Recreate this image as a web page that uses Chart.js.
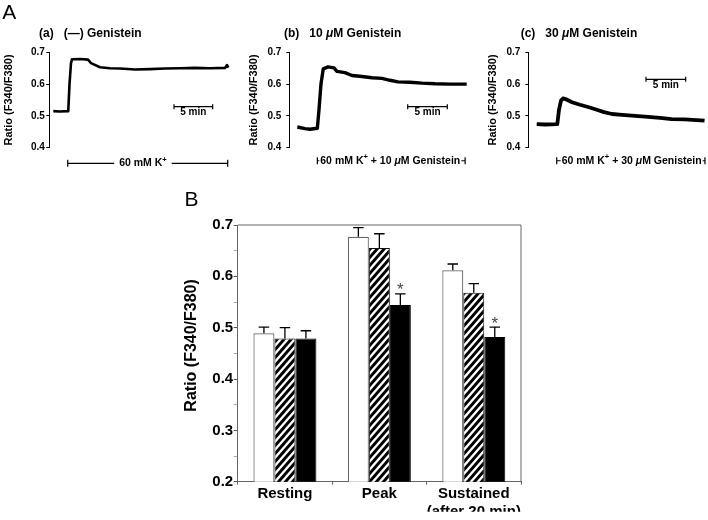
<!DOCTYPE html>
<html><head><meta charset="utf-8">
<script src="https://cdn.jsdelivr.net/npm/chart.js@4/dist/chart.umd.min.js"></script>
<style>
html,body{margin:0;padding:0;background:#fff;overflow:hidden;}
#wrap{position:relative;width:708px;height:520px;overflow:hidden;background:#fff;}
#wrap canvas{position:absolute;left:0;top:0;}
</style></head><body>
<div id="wrap">
<canvas id="ca" width="708" height="520"></canvas>
<canvas id="cb" width="708" height="520"></canvas>
<canvas id="cc" width="708" height="520"></canvas>
<canvas id="cB" width="708" height="520"></canvas>
</div>
<script>
// ================= DATA =================
// Panel A traces: time (min) and ratio F340/F380
const traceA_time  = [0.52, 1.38, 2.45, 2.61, 2.80, 2.93, 3.97, 5.00, 5.39, 6.03, 6.55, 7.84, 9.13, 11.07, 13.0, 14.95, 16.9, 18.8, 20.8, 22.7, 22.96, 23.13];
const traceA_ratio = [0.515, 0.514, 0.515, 0.600, 0.665, 0.678, 0.679, 0.677, 0.666, 0.659, 0.653, 0.650, 0.649, 0.646, 0.647, 0.649, 0.650, 0.651, 0.650, 0.651, 0.660, 0.652];

const traceB_time  = [1.01, 1.98, 2.61, 3.54, 3.75, 4.00, 4.29, 4.89, 5.64, 6.02, 7.03, 7.92, 9.18, 10.44, 11.7, 12.71, 13.72, 15.24, 16.76, 18.4, 20.3, 22.4];
const traceB_ratio = [0.465, 0.460, 0.458, 0.461, 0.520, 0.600, 0.648, 0.654, 0.651, 0.640, 0.636, 0.627, 0.624, 0.620, 0.618, 0.612, 0.607, 0.606, 0.603, 0.601, 0.600, 0.600];

const traceC_time  = [1.06, 2.10, 3.65, 3.87, 4.12, 4.37, 4.87, 5.50, 6.51, 7.52, 8.53, 9.53, 10.54, 11.8, 13.44, 15.08, 16.59, 18.07, 19.7, 21.2, 22.2];
const traceC_ratio = [0.474, 0.473, 0.474, 0.520, 0.548, 0.555, 0.551, 0.543, 0.535, 0.528, 0.520, 0.512, 0.506, 0.503, 0.500, 0.497, 0.494, 0.490, 0.489, 0.487, 0.485];

// application periods (min) and 5-min scale bars (min)
const stimA = [2.38, 23.05];
const stimB = [3.54, 22.2];
const stimC = [3.58, 22.25];
const scaleA = [16.11, 21.11];
const scaleB = [14.95, 19.95];
const scaleC = [14.82, 19.82];

const traceTicks = [0.4, 0.5, 0.6, 0.7];

// Panel B bars
const categories = ['Resting', 'Peak', ['Sustained', '(after 20 min)']];
const control    = [0.489, 0.677, 0.612];
const controlErr = [0.012, 0.018, 0.012];
const gen10      = [0.479, 0.655, 0.568];
const gen10Err   = [0.021, 0.028, 0.018];
const gen30      = [0.479, 0.544, 0.482];
const gen30Err   = [0.015, 0.022, 0.019];
const gen30Sig   = [false, true, true];

// ================= RENDERING =================
const FONT = '"Liberation Sans", Arial, Helvetica, sans-serif';
Chart.defaults.font.family = FONT;
Chart.defaults.color = '#000';

// horizontal bars with end caps (scale bars, application brackets), placed through the scales
function capBarsPlugin(items) {
  return {
    id: 'capbars',
    afterDatasetsDraw(chart) {
      const ctx = chart.ctx, xs = chart.scales.x, ys = chart.scales.y;
      ctx.save();
      ctx.strokeStyle = '#000'; ctx.lineWidth = 1.2; ctx.lineCap = 'butt';
      items.forEach(it => {
        const x0 = xs.getPixelForValue(it.x[0]), x1 = xs.getPixelForValue(it.x[1]);
        const y = ys.getPixelForValue(it.y);
        ctx.beginPath();
        ctx.moveTo(x0, y); ctx.lineTo(x1, y);
        ctx.moveTo(x0, y - it.cap); ctx.lineTo(x0, y + it.cap);
        ctx.moveTo(x1, y - it.cap); ctx.lineTo(x1, y + it.cap);
        ctx.stroke();
      });
      ctx.restore();
    }
  };
}

function notesPlugin(items) {
  return {
    id: 'notes',
    afterDatasetsDraw(chart) {
      const ctx = chart.ctx, xs = chart.scales.x, ys = chart.scales.y;
      items.forEach(it => {
        const px = xs.getPixelForValue(it.x), py = ys.getPixelForValue(it.y);
        const fontOf = p => (p.italic ? 'italic ' : '') + (it.weight || 'bold') + ' ' +
          (p.sup ? it.size * 0.72 : it.size) + 'px ' + FONT;
        ctx.save();
        ctx.translate(px, py);
        if (it.rot) ctx.rotate(it.rot * Math.PI / 180);
        const widths = it.parts.map(p => { ctx.font = fontOf(p); return ctx.measureText(p.t).width; });
        const total = widths.reduce((a, b) => a + b, 0);
        let cx = it.align === 'left' ? 0 : (it.align === 'right' ? -total : -total / 2);
        if (it.bg) { ctx.fillStyle = '#fff'; ctx.fillRect(cx - it.bg, -it.size * 0.6, total + 2 * it.bg, it.size * 1.2); }
        ctx.fillStyle = it.color || '#000';
        ctx.textAlign = 'left'; ctx.textBaseline = 'middle';
        it.parts.forEach((p, i) => {
          ctx.font = fontOf(p);
          ctx.fillText(p.t, cx, p.sup ? -it.size * 0.32 : 0);
          cx += widths[i];
        });
        ctx.restore();
      });
    }
  };
}

function pts(xs, ys) { return xs.map((x, i) => ({ x: x, y: ys[i] })); }

function traceChart(id, c) {
  const right = c.axisX + c.tMax * c.ppm;
  new Chart(document.getElementById(id), {
    type: 'line',
    data: { datasets: [
      { data: pts(c.t, c.r), borderColor: '#000', borderWidth: c.lw, pointRadius: 0, tension: 0, borderJoinStyle: 'round' }
    ]},
    options: {
      responsive: false, animation: false, events: [],
      layout: { padding: { left: c.axisX - c.yW, right: 708 - right, top: 52.3, bottom: 520 - 147.7 } },
      plugins: { legend: { display: false }, tooltip: { enabled: false } },
      scales: {
        x: { type: 'linear', min: 0, max: c.tMax, display: false },
        y: {
          min: 0.4, max: 0.7,
          afterFit: s => { s.width = c.yW; },
          afterBuildTicks: s => { s.ticks = traceTicks.map(v => ({ value: v })); },
          ticks: { font: { size: 10, weight: 'bold' }, padding: c.tickPad, callback: v => Number(v).toFixed(1) },
          grid: { drawOnChartArea: false, tickLength: 3, tickColor: '#000', tickWidth: 1 },
          border: { color: '#000', width: 1 },
          title: { display: true, text: 'Ratio (F340/F380)', font: { size: 11, weight: 'bold' }, padding: { top: 0, bottom: 0 } }
        }
      }
    },
    plugins: [
      capBarsPlugin([
        { x: c.scale, y: c.scaleY, cap: 2.5 },
        { x: c.stim, y: c.stimY, cap: 3.5 }
      ]),
      notesPlugin(c.notes)
    ]
  });
}

traceChart('ca', {
  t: traceA_time, r: traceA_ratio, lw: 2.6,
  axisX: 49.3, yW: 46.6, ppm: 7.74, tMax: 24, tickPad: 1.5,
  scale: scaleA, scaleY: 0.529, stim: stimA, stimY: 0.351,
  notes: [
    { x: -5.18, y: 0.8226, parts: [{ t: 'A' }], size: 21, weight: 'normal', align: 'center' },
    { x: -1.33, y: 0.76, parts: [{ t: '(a)   (\u2014) Genistein' }], size: 12, align: 'left' },
    { x: 18.6, y: 0.511, parts: [{ t: '5 min' }], size: 10, align: 'center' },
    { x: 12.1, y: 0.351, parts: [{ t: '60 mM K' }, { t: '+', sup: true }], size: 10.5, align: 'center', bg: 5 }
  ]
});

traceChart('cb', {
  t: traceB_time, r: traceB_ratio, lw: 3.4,
  axisX: 289.3, yW: 41.6, ppm: 7.92, tMax: 24, tickPad: 5,
  scale: scaleB, scaleY: 0.529, stim: stimB, stimY: 0.359,
  notes: [
    { x: -0.67, y: 0.76, parts: [{ t: '(b)   10 ' }, { t: '\u03bc', italic: true }, { t: 'M Genistein' }], size: 12, align: 'left' },
    { x: 17.45, y: 0.51, parts: [{ t: '5 min' }], size: 10, align: 'center' },
    { x: 12.75, y: 0.359, parts: [{ t: '60 mM K' }, { t: '+', sup: true }, { t: ' + 10 ' }, { t: '\u03bc', italic: true }, { t: 'M Genistein' }], size: 10.5, align: 'center', bg: 1 }
  ]
});

traceChart('cc', {
  t: traceC_time, r: traceC_ratio, lw: 3.8,
  axisX: 528.3, yW: 41.9, ppm: 7.94, tMax: 22.5, tickPad: 5,
  scale: scaleC, scaleY: 0.615, stim: stimC, stimY: 0.359,
  notes: [
    { x: -0.96, y: 0.76, parts: [{ t: '(c)   30 ' }, { t: '\u03bc', italic: true }, { t: 'M Genistein' }], size: 12, align: 'left' },
    { x: 17.33, y: 0.595, parts: [{ t: '5 min' }], size: 10, align: 'center' },
    { x: 13.02, y: 0.359, parts: [{ t: '60 mM K' }, { t: '+', sup: true }, { t: ' + 30 ' }, { t: '\u03bc', italic: true }, { t: 'M Genistein' }], size: 10.5, align: 'center', bg: 1 }
  ]
});

// ---------- Panel B ----------
function makeHatch() {
  const w = 7, h = 8;
  const c = document.createElement('canvas'); c.width = w; c.height = h;
  const g = c.getContext('2d');
  g.fillStyle = '#fff'; g.fillRect(0, 0, w, h);
  g.strokeStyle = '#000'; g.lineWidth = 2.9;
  g.beginPath();
  for (let k = -2; k <= 2; k++) { g.moveTo(k * w - w, 2 * h); g.lineTo(k * w + 2 * w, -h); }
  g.stroke();
  return g.createPattern(c, 'repeat');
}

const errPlugin = {
  id: 'errbars',
  afterDatasetsDraw(chart) {
    const ctx = chart.ctx, ys = chart.scales.y;
    const errs = [controlErr, gen10Err, gen30Err];
    const sigs = [null, null, gen30Sig];
    chart.data.datasets.forEach((ds, di) => {
      const meta = chart.getDatasetMeta(di);
      meta.data.forEach((bar, i) => {
        const top = ys.getPixelForValue(ds.data[i] + errs[di][i]);
        const half = bar.width / 4;
        ctx.save();
        ctx.strokeStyle = '#000'; ctx.lineWidth = 1.3;
        ctx.beginPath();
        ctx.moveTo(bar.x, bar.y); ctx.lineTo(bar.x, top);
        ctx.moveTo(bar.x - half, top); ctx.lineTo(bar.x + half, top);
        ctx.stroke();
        if (sigs[di] && sigs[di][i]) {
          ctx.font = 'normal 17px ' + FONT;
          ctx.fillStyle = '#444'; ctx.textAlign = 'center'; ctx.textBaseline = 'alphabetic';
          const m = ctx.measureText('*');
          const target = top - 7.5;
          const base = target - (m.actualBoundingBoxDescent - m.actualBoundingBoxAscent) / 2;
          ctx.fillText('*', bar.x, base);
        }
        ctx.restore();
      });
    });
  }
};

const framePlugin = {
  id: 'frame',
  afterDraw(chart) {
    const ctx = chart.ctx, a = chart.chartArea;
    ctx.save(); ctx.strokeStyle = '#666'; ctx.lineWidth = 1;
    ctx.beginPath(); ctx.moveTo(a.left, a.top); ctx.lineTo(a.right, a.top); ctx.lineTo(a.right, a.bottom); ctx.stroke();
    ctx.restore();
  }
};

const isMajor = v => Math.round(v * 100) % 10 === 0;

new Chart(document.getElementById('cB'), {
  type: 'bar',
  data: { labels: categories, datasets: [
    { data: control, backgroundColor: '#fff', borderColor: '#666', borderWidth: 1.2 },
    { data: gen10, backgroundColor: makeHatch(), borderColor: '#111', borderWidth: 1 },
    { data: gen30, backgroundColor: '#000', borderColor: '#000', borderWidth: 1 }
  ]},
  options: {
    responsive: false, animation: false, events: [],
    layout: { padding: { left: 237.7 - 50, right: 708 - 521, top: 225, bottom: 520 - 481.7 - 30 } },
    datasets: { bar: { categoryPercentage: 0.667, barPercentage: 1 } },
    plugins: { legend: { display: false }, tooltip: { enabled: false } },
    scales: {
      x: {
        offset: true,
        afterFit: s => { s.height = 30; },
        grid: { offset: true, drawOnChartArea: false, tickLength: 3, tickColor: '#666' },
        border: { color: '#666', width: 1 },
        ticks: { font: { size: 15, weight: 'bold' }, padding: 0, autoSkip: false, maxRotation: 0 }
      },
      y: {
        min: 0.2, max: 0.7,
        afterFit: s => { s.width = 50; },
        ticks: { stepSize: 0.05, autoSkip: false, font: { size: 15, weight: 'bold' }, padding: 0.5,
          callback: v => isMajor(v) ? (Math.round(v * 10) / 10).toFixed(1) : '' },
        grid: { drawOnChartArea: false, tickLength: 4,
          tickColor: ctx => (ctx.tick && isMajor(ctx.tick.value)) ? '#555' : '#aaa' },
        border: { color: '#666', width: 1 }
      }
    }
  },
  plugins: [errPlugin, framePlugin, notesPlugin([
    { x: -0.99, y: 0.7487, parts: [{ t: 'B' }], size: 21, weight: 'normal', align: 'center' },
    { x: -0.99, y: 0.4655, parts: [{ t: 'Ratio (F340/F380)' }], size: 16, align: 'center', rot: -90 }
  ])]
});
</script>
</body></html>
